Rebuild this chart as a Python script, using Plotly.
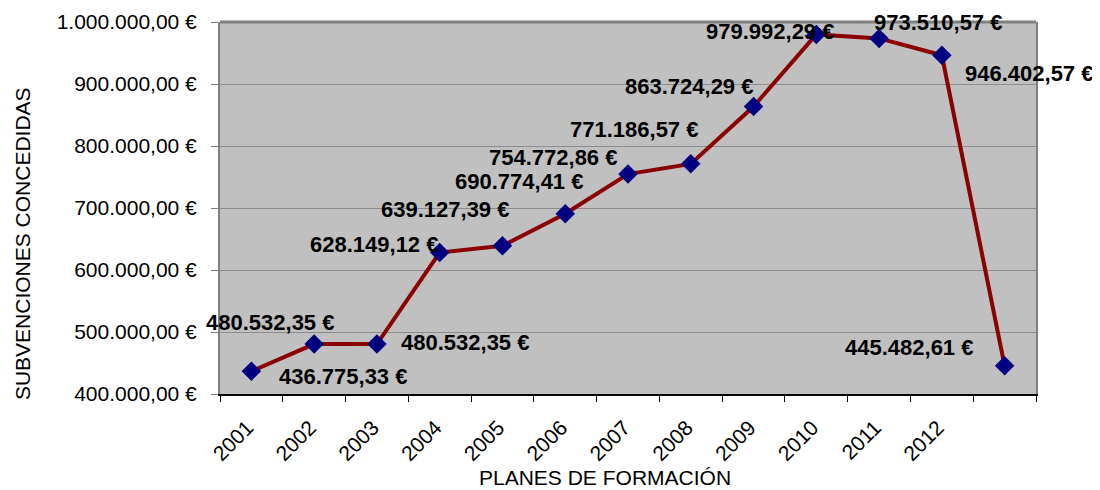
import plotly.graph_objects as go

# ---- data ----
categories = ["2001", "2002", "2003", "2004", "2005", "2006", "2007",
              "2008", "2009", "2010", "2011", "2012", " "]
subvenciones = [436775.33, 480532.35, 480532.35, 628149.12, 639127.39,
                690774.41, 754772.86, 771186.57, 863724.29, 979992.29,
                973510.57, 946402.57, 445482.61]
point_labels = ["436.775,33 €", "480.532,35 €", "480.532,35 €", "628.149,12 €",
                "639.127,39 €", "690.774,41 €", "754.772,86 €", "771.186,57 €",
                "863.724,29 €", "979.992,29 €", "973.510,57 €", "946.402,57 €",
                "445.482,61 €"]
y_tickvals = [400000, 500000, 600000, 700000, 800000, 900000, 1000000]
y_ticktext = ["400.000,00 €", "500.000,00 €", "600.000,00 €", "700.000,00 €",
              "800.000,00 €", "900.000,00 €", "1.000.000,00 €"]

# label offsets (pixels) relative to each point: (dx, dy up)
label_offsets = [(92, -5), (-44, 22), (88, 2), (-66, 8), (-57, 36), (-46, 32),
                 (-75, 17), (-57, 34), (-65, 20), (-46, 3), (59, 16), (87, -18),
                 (-96, 18)]

FONT = "Liberation Sans, Arial, sans-serif"

fig = go.Figure()
fig.add_trace(go.Scatter(
    x=categories, y=subvenciones, mode="lines+markers",
    line=dict(color="#8B0000", width=4),
    marker=dict(symbol="diamond", size=15, color="#000080",
                line=dict(width=0)),
    hoverinfo="skip", showlegend=False, cliponaxis=False,
))

for i, (val, txt, (dx, dy)) in enumerate(zip(subvenciones, point_labels, label_offsets)):
    fig.add_annotation(x=i, y=val, text="<b>" + txt + "</b>", showarrow=False,
                       xshift=dx, yshift=dy, xanchor="center", yanchor="middle",
                       font=dict(family=FONT, size=22, color="black"))

fig.add_annotation(xref="paper", yref="paper", x=-0.2426, y=0.403,
                   xanchor="center", yanchor="middle",
                   text="SUBVENCIONES CONCEDIDAS", textangle=-90,
                   showarrow=False, font=dict(family=FONT, size=21, color="black"))
fig.add_annotation(xref="paper", yref="paper", x=0.4718, y=-0.2258,
                   xanchor="center", yanchor="middle",
                   text="PLANES DE FORMACIÓN", showarrow=False,
                   font=dict(family=FONT, size=21, color="black"))

# top border
fig.add_shape(type="line", xref="paper", yref="paper", x0=0, x1=1, y0=1, y1=1,
              line=dict(color="#808080", width=3), layer="above")

fig.update_layout(
    width=1092, height=482,
    margin=dict(l=212, r=64, t=14, b=96, autoexpand=False),
    paper_bgcolor="white", plot_bgcolor="#C0C0C0",
    font=dict(family=FONT, size=21, color="black"),
    xaxis=dict(type="category", categoryorder="array", categoryarray=categories,
               range=[-0.5, len(categories) - 0.5], autorange=False,
               tickson="boundaries", ticks="outside", ticklen=6, tickcolor="black",
               tickwidth=1, tickangle=-45, showgrid=False,
               showline=True, linecolor="black", linewidth=2,
               tickfont=dict(family=FONT, size=21, color="black"),
               ticklabelstandoff=11, ticklabelshift=-4),
    yaxis=dict(range=[400000, 1000000], autorange=False,
               tickvals=y_tickvals, ticktext=y_ticktext,
               ticks="outside", ticklen=7, tickcolor="#808080",
               showgrid=True, gridcolor="#8C8C8C", gridwidth=1,
               showline=True, linecolor="#808080", linewidth=2, mirror=True,
               zeroline=False,
               tickfont=dict(family=FONT, size=21, color="black"),
               ticklabelstandoff=10),
)

fig.write_html("out.html")
